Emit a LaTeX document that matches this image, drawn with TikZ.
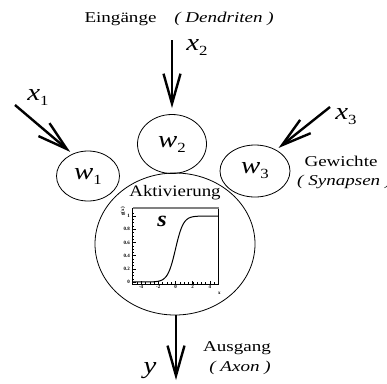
\documentclass[tikz,border=0pt]{standalone}
\usepackage{fontspec}
\setmainfont{Liberation Serif}
\usetikzlibrary{shapes.geometric,arrows.meta}
\newcommand{\hs}[1]{\scalebox{1.27}[1]{#1}}
\newcommand{\mv}[2]{\scalebox{1.2}[1]{\fontsize{24}{24}\selectfont\textit{#1}\raisebox{-5pt}{\fontsize{14}{14}\selectfont #2}}}
\begin{document}
\begin{tikzpicture}[x=1pt,y=-1pt,
  txt/.style={inner sep=0pt, font=\fontsize{15}{17}\selectfont},
  cell/.style={ellipse, draw, line width=0.8pt, inner sep=0pt},
  sig/.style={line width=2.4pt, -{Straight Barb[length=30pt,width=17pt]}},
  tick/.style={inner sep=0.6pt, font=\fontsize{5}{5}\selectfont\bfseries},
  ]
\useasboundingbox (0,0) rectangle (387,383);
% texts
\node[txt] (ein) at (120.5,19) {\hs{Eingänge}};
\node[txt] (den) at (224,19) {\hs{\textit{( Dendriten )}}};
\node[txt] (gew) at (341,161) {\hs{Gewichte}};
\node[txt, anchor=west] (syn) at (297,182) {\hs{\textit{( Synapsen )}}};
\node[txt] (aus) at (237,348) {\hs{Ausgang}};
\node[txt] (axo) at (240,368) {\hs{\textit{( Axon )}}};
% cells
\node[cell, minimum width=63, minimum height=50] (w1) at (88,176) {\mv{w}{1}};
\node[cell, minimum width=69, minimum height=59] (w2) at (172,144) {\mv{w}{2}};
\node[cell, minimum width=70, minimum height=52] (w3) at (255,171) {\mv{w}{3}};
\node[cell, minimum width=160, minimum height=142] (neuron) at (175,244) {};
\node[inner sep=0pt, font=\fontsize{16}{18}\selectfont] (akt) at (175,193) {\scalebox{1.18}[1]{Aktivierung}};
\node[inner sep=0pt] (s) at (162,221) {\scalebox{1.1}[1]{\fontsize{22}{22}\selectfont\bfseries\itshape s}};
% input labels
\node[inner sep=0pt] (lx1) at (38,97) {\mv{x}{1}};
\node[inner sep=0pt] (lx2) at (197,47) {\mv{x}{2}};
\node[inner sep=0pt] (lx3) at (346,117) {\mv{x}{3}};
\node[inner sep=0pt] (ly) at (150,371) {\mv{y}{}};
% arrows
\coordinate (x1s) at (15,105);
\coordinate (x2s) at (172,40);
\coordinate (x3s) at (330,107);
\coordinate (out) at (176,380);
\draw[sig, shorten >=3pt] (x1s) -- (w1.125);
\draw[sig, shorten >=6pt] (x2s) -- (w2.north);
\draw[sig, shorten >=3pt] (x3s) -- (w3.45);
\draw[sig] (neuron.south -| out) -- (out);
% plot
\begin{scope}[shift={(175.5,282)}, x=8.6pt, y=66pt]
  \draw[line width=0.6pt] (-5,-0.03) rectangle (5,1.12);
  \draw[gray, line width=1.3pt] (-5,1.12) -- (5,1.12);
  \foreach \t in {-4.5,-4,...,4.6} \draw[line width=0.4pt] (\t,-0.03) -- ++(0,0.025);
  \foreach \t in {-4,-2,...,4} \draw[line width=0.5pt] (\t,-0.03) -- ++(0,0.05);
  \foreach \t in {0,0.05,...,1.1} \draw[line width=0.4pt] (-5,\t) -- ++(0.2,0);
  \foreach \t in {0,0.2,...,1.01} \draw[line width=0.5pt] (-5,\t) -- ++(0.4,0);
  \foreach \t [count=\i] in {-4,-2,0,2,4} \node[tick, below] (xt\i) at (\t,-0.03) {\t};
  \foreach \t/\l [count=\i] in {0/0,0.2/0.2,0.4/0.4,0.6/0.6,0.8/0.8,1/1} \node[tick, left] (yt\i) at (-5.2,\t) {\l};
  \node[tick, rotate=90] (gx) at (-6.1,1.07) {g(x)};
  \node[tick] (xx) at (5.1,-0.17) {x};
  \draw[line width=1pt] plot[domain=-5:5, samples=100, smooth] (\x, {1/(1+exp(min(9,-2.2*\x)))});
\end{scope}
\end{tikzpicture}
\end{document}
